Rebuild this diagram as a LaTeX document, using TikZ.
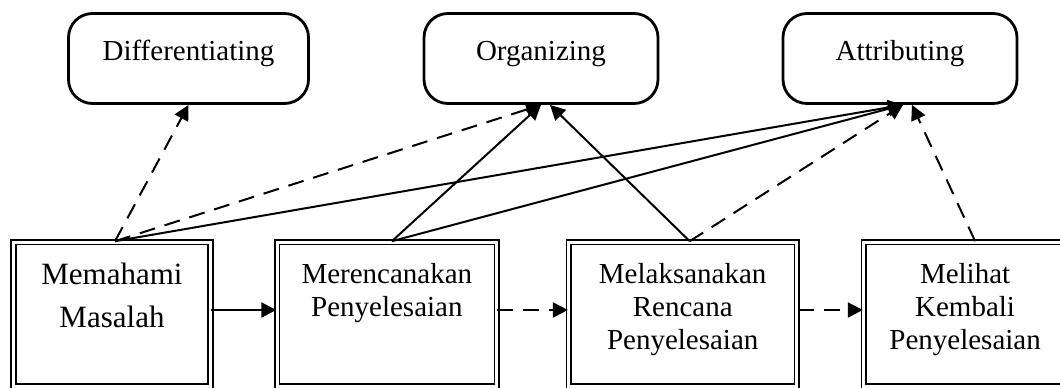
\documentclass[tikz,border=0pt]{standalone}
\usepackage{fontspec}
\setmainfont{Liberation Serif}
\usepackage{tikz}
\usetikzlibrary{arrows.meta, positioning}

\begin{document}
\begin{tikzpicture}[
    x=0.5pt, y=0.5pt,
    level/.style={rectangle, rounded corners=12pt, draw, line width=1.4pt, minimum width=117pt, minimum height=45pt, text height=8pt, text depth=6pt, font=\fontsize{14.5}{17}\selectfont},
    stepbox/.style={rectangle, draw, line width=0.8pt, double, double distance=1.5pt, minimum height=72pt, inner sep=0pt},
    steptext/.style={anchor=north, yshift=-10.7pt, inner sep=0pt, align=center, font=\fontsize{14.5}{16.5}\selectfont},
    arrow/.style={-{Triangle[length=7.5pt, width=7.5pt]}, line width=1pt},
    dasharrow/.style={arrow, dash pattern=on 8pt off 5pt},
]
\useasboundingbox (0,0) rectangle (1060,387);
\clip (0,0) rectangle (1060,387);

% Thinking levels
\node[level, minimum width=120pt] (diff) at (188.5,328.5) {Differentiating};
\node[level] (org) at (541,328.5) {Organizing};
\node[level] (attr) at (900,328.5) {Attributing};

% Problem solving steps
\node[stepbox, minimum width=98.5pt,
      label={[steptext, font=\fontsize{15.5}{21.5}\selectfont]north:{Memahami\\Masalah}}] (memahami) at (112,73) {};
\node[stepbox, minimum width=109.75pt, right=32.5pt of memahami,
      label={[steptext]north:{Merencanakan\\Penyelesaian}}] (merencanakan) {};
\node[stepbox, minimum width=114pt, right=35.25pt of merencanakan,
      label={[steptext]north:{Melaksanakan\\Rencana\\Penyelesaian}}] (melaksanakan) {};
\node[stepbox, minimum width=101.5pt, right=32.65pt of melaksanakan,
      label={[steptext]north:{Melihat\\Kembali\\Penyelesaian}}] (melihat) {};

% Arrows between steps
\draw[arrow] ([yshift=2pt]memahami.east) -- ([yshift=2pt]merencanakan.west);
\draw[dasharrow] ([yshift=2pt]merencanakan.east) -- ([yshift=2pt]melaksanakan.west);
\draw[dasharrow] ([yshift=2pt]melaksanakan.east) -- ([yshift=2pt]melihat.west);

% Arrows to levels
\draw[dasharrow] ([xshift=1.5pt]memahami.north) -- (diff.south);
\draw[dasharrow] ([xshift=1.5pt]memahami.north) -- (org.south);
\draw[arrow] ([xshift=1.5pt]memahami.north) -- ([xshift=1.5pt]attr.south);
\draw[arrow] ([xshift=2.5pt]merencanakan.north) -- (org.south);
\draw[arrow] ([xshift=2.5pt]merencanakan.north) -- ([xshift=1.5pt]attr.south);
\draw[arrow] ([xshift=3.5pt]melaksanakan.north) -- ([xshift=4.5pt]org.south);
\draw[dasharrow] ([xshift=3.5pt]melaksanakan.north) -- ([xshift=1.5pt]attr.south);
\draw[dasharrow] ([xshift=5pt]melihat.north) -- ([xshift=6pt]attr.south);

\end{tikzpicture}
\end{document}
